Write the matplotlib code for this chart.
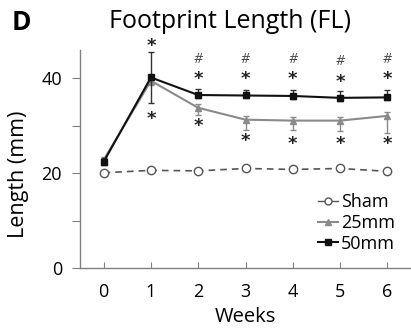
import numpy as np
import matplotlib
matplotlib.use('Agg')
import matplotlib.pyplot as plt
from matplotlib.lines import Line2D

# %% DATA
weeks = [0, 1, 2, 3, 4, 5, 6]
sham = [20.1, 20.6, 20.5, 21.0, 20.8, 21.0, 20.4]
mm25 = [22.8, 39.5, 33.8, 31.3, 31.1, 31.1, 32.1]
mm50 = [22.4, 40.2, 36.5, 36.4, 36.3, 35.9, 36.0]
sham_err = [0.4, 0.4, 0.4, 0.6, 0.4, 0.6, 0.4]
mm25_err_lo = [0.6, 0.8, 1.5, 2.2, 2.0, 2.2, 3.6]
mm25_err_hi = [0.6, 0.8, 0.8, 0.8, 0.8, 0.8, 0.8]
mm50_err_lo = [0.6, 5.4, 0.6, 0.6, 0.6, 0.6, 0.6]
mm50_err_hi = [0.8, 5.3, 1.2, 1.2, 1.2, 1.5, 1.5]

# significance marks
star_up_x = [1, 2, 3, 4, 5, 6]
star_up_y = [47.4, 40.4, 40.4, 40.4, 39.9, 40.4]
hash_x = [2, 3, 4, 5, 6]
hash_y = [43.9, 43.9, 43.9, 43.6, 43.9]
star_lo_x = [1, 2, 3, 4, 5, 6]
star_lo_y = [32.0, 30.6, 27.5, 26.7, 26.7, 26.7]

plt.rcParams['font.family'] = ['Open Sans', 'DejaVu Sans']

fig = plt.figure(figsize=(4.11, 3.31), dpi=100)
ax = fig.add_axes([80/411, 63/331, 331/411, 218/331])

ax.errorbar(weeks, sham, yerr=sham_err, color='#555555', ls=(0, (4, 3)), lw=1.2,
            marker='o', ms=6, mfc='white', mec='#555555', mew=1.0,
            ecolor='#aaaaaa', elinewidth=0.8, capsize=0, zorder=2)
ax.errorbar(weeks, mm25, yerr=[mm25_err_lo, mm25_err_hi], color='#8a8a8a', lw=1.5,
            marker='^', ms=5, mfc='#8a8a8a', mec='#8a8a8a',
            ecolor='#8a8a8a', elinewidth=1.0, capsize=2, zorder=3)
ax.errorbar(weeks, mm50, yerr=[mm50_err_lo, mm50_err_hi], color='#111111', lw=1.5,
            marker='s', ms=5, mfc='#111111', mec='#111111',
            ecolor='#333333', elinewidth=1.0, capsize=2, zorder=4)

for x, y in zip(star_up_x, star_up_y):
    ax.text(x, y - 0.6, '*', ha='center', va='center', fontsize=13, color='#222222',
            family='DejaVu Sans', fontweight='bold', clip_on=False)
for x, y in zip(hash_x, hash_y):
    ax.text(x, y, '#', ha='center', va='center', fontsize=10, color='#444444',
            style='italic', clip_on=False)
for x, y in zip(star_lo_x, star_lo_y):
    ax.text(x, y - 0.6, '*', ha='center', va='center', fontsize=13, color='#222222',
            family='DejaVu Sans', fontweight='bold', clip_on=False)

ax.set_xlim(-0.5, 6.5)
ax.set_ylim(0, 46)
ax.set_xticks(weeks)
ax.set_yticks([0, 10, 20, 30, 40])
ax.set_yticklabels(['0', '', '20', '', '40'])

for s in ['top', 'right']:
    ax.spines[s].set_visible(False)
for s in ['left', 'bottom']:
    ax.spines[s].set_color('#808080')
    ax.spines[s].set_linewidth(1.0)
ax.tick_params(axis='x', direction='in', length=4, color='#808080', labelsize=13, pad=11)
ax.tick_params(axis='y', direction='out', length=6, color='#808080', labelsize=13, pad=7)

ax.set_xlabel('Weeks', fontsize=14.5, labelpad=4)
ax.set_ylabel('Length (mm)', fontsize=15.5)
ax.yaxis.set_label_coords(-0.153, 0.43)

handles = [
    Line2D([], [], color='#555555', lw=1.0, marker='o', ms=5, mfc='white', mec='#555555'),
    Line2D([], [], color='#8a8a8a', lw=1.5, marker='^', ms=4, mfc='#8a8a8a', mec='#8a8a8a'),
    Line2D([], [], color='#111111', lw=1.5, marker='s', ms=4, mfc='#111111', mec='#111111'),
]
ax.legend(handles, ['Sham', '25mm', '50mm'], loc='lower right',
          bbox_to_anchor=(0.985, 0.02), frameon=False,
          fontsize=13, handlelength=1.1, handletextpad=0.2, labelspacing=0.15,
          borderaxespad=0.2)

fig.text(230/411, 1 - 22/331, 'Footprint Length (FL)', ha='center', va='center', fontsize=18)
fig.text(12/411, 1 - 23/331, 'D', ha='left', va='center', fontsize=19, fontweight='bold')

fig.savefig('out.png', dpi=100)
